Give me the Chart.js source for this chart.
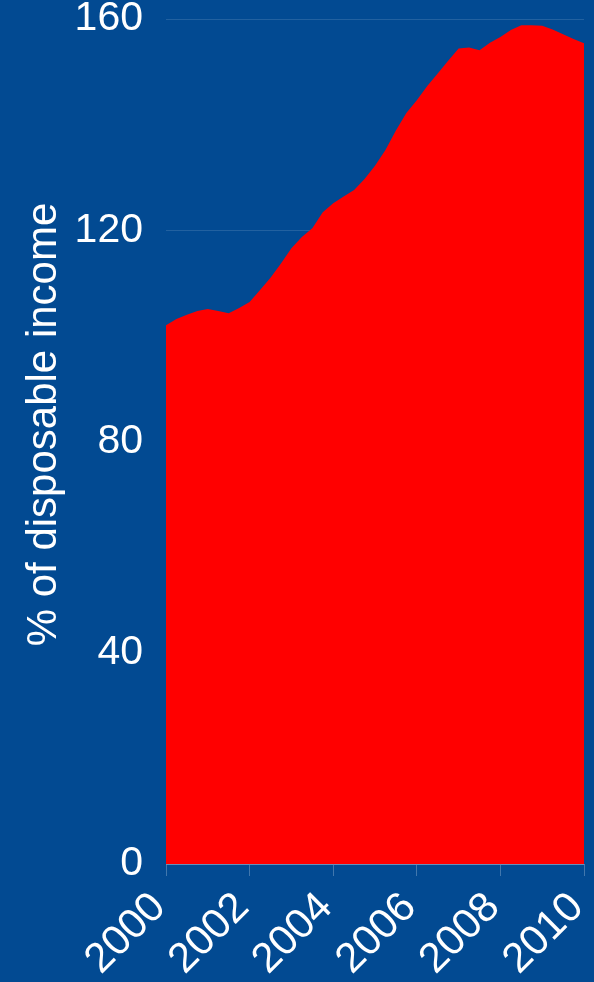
<!DOCTYPE html>
<html>
<head>
<meta charset="utf-8">
<script src="https://cdn.jsdelivr.net/npm/chart.js@4.4.1/dist/chart.umd.min.js"></script>
<style>
  html, body { margin: 0; padding: 0; background: #024a92; }
  #wrap { width: 594px; height: 982px; }
</style>
</head>
<body>
<div id="wrap"><canvas id="c" width="594" height="982"></canvas></div>
<script>
// Household debt, quarterly, as % of disposable income
const quarters = [
  2000.00, 2000.25, 2000.50, 2000.75,
  2001.00, 2001.25, 2001.50, 2001.75,
  2002.00, 2002.25, 2002.50, 2002.75,
  2003.00, 2003.25, 2003.50, 2003.75,
  2004.00, 2004.25, 2004.50, 2004.75,
  2005.00, 2005.25, 2005.50, 2005.75,
  2006.00, 2006.25, 2006.50, 2006.75,
  2007.00, 2007.25, 2007.50, 2007.75,
  2008.00, 2008.25, 2008.50, 2008.75,
  2009.00, 2009.25, 2009.50, 2009.75,
  2010.00
];
const debtRatio = [
  102.0, 103.2, 104.0, 104.7,
  105.1, 104.7, 104.3, 105.3,
  106.4, 108.7, 111.0, 113.7,
  116.6, 118.7, 120.4, 123.4,
  125.1, 126.4, 127.6, 129.7,
  132.2, 135.2, 138.9, 142.2,
  144.6, 147.3, 149.7, 152.1,
  154.4, 154.6, 154.1, 155.5,
  156.6, 157.9, 158.8, 158.8,
  158.7, 158.0, 157.1, 156.2,
  155.4
];
const yTicks = [0, 40, 80, 120, 160];
const xTicks = [2000, 2002, 2004, 2006, 2008, 2010];
const yTitle = '% of disposable income';

const BG = '#024a92';
const GRID = 'rgba(255,255,255,0.13)';
const FONT = 'Liberation Sans, Arial, sans-serif';

// Paint the page colour behind everything
const bgPlugin = {
  id: 'bg',
  beforeDraw(chart) {
    const ctx = chart.ctx;
    ctx.save();
    ctx.fillStyle = BG;
    ctx.fillRect(0, 0, chart.width, chart.height);
    ctx.restore();
  }
};

// Vertical axis title, set in the left margin
const yTitlePlugin = {
  id: 'yTitle',
  afterDraw(chart) {
    const ctx = chart.ctx;
    const area = chart.chartArea;
    ctx.save();
    ctx.fillStyle = '#ffffff';
    ctx.font = '42px ' + FONT;
    ctx.textAlign = 'center';
    ctx.textBaseline = 'middle';
    ctx.translate(44, (area.top + area.bottom) / 2 - 17);
    ctx.rotate(-Math.PI / 2);
    ctx.fillText(yTitle, 0, 0);
    ctx.restore();
  }
};

new Chart(document.getElementById('c'), {
  type: 'line',
  data: {
    datasets: [{
      data: quarters.map((q, i) => ({ x: q, y: debtRatio[i] })),
      borderWidth: 0,
      borderColor: '#ff0000',
      backgroundColor: '#ff0000',
      fill: 'origin',
      pointRadius: 0,
      tension: 0
    }]
  },
  options: {
    responsive: false,
    animation: false,
    devicePixelRatio: 1,
    layout: { padding: { left: 0, right: 10, top: 19, bottom: 0 } },
    plugins: { legend: { display: false }, tooltip: { enabled: false } },
    scales: {
      x: {
        type: 'linear',
        min: 2000,
        max: 2010,
        afterBuildTicks(scale) { scale.ticks = xTicks.map(v => ({ value: v })); },
        afterFit(scale) {
          scale.height = 118;
          scale.paddingLeft = 0;
          scale.paddingRight = 0;
        },
        grid: { display: true, drawOnChartArea: false, drawTicks: true, tickLength: 12, color: 'rgba(255,255,255,0.25)' },
        border: { display: true, color: 'rgba(255,255,255,0.3)' },
        ticks: {
          color: '#ffffff',
          font: { family: FONT, size: 42 },
          minRotation: 45,
          maxRotation: 45,
          padding: 7,
          labelOffset: -7,
          autoSkip: false,
          callback: v => String(v)
        }
      },
      y: {
        min: 0,
        max: 160,
        afterBuildTicks(scale) { scale.ticks = yTicks.map(v => ({ value: v })); },
        afterFit(scale) {
          scale.width = 166;
          scale.paddingTop = 0;
          scale.paddingBottom = 0;
        },
        grid: { color: GRID, drawTicks: false },
        border: { display: false },
        ticks: {
          color: '#ffffff',
          font: { family: FONT, size: 41 },
          padding: 23
        }
      }
    }
  },
  plugins: [bgPlugin, yTitlePlugin]
});
</script>
</body>
</html>
